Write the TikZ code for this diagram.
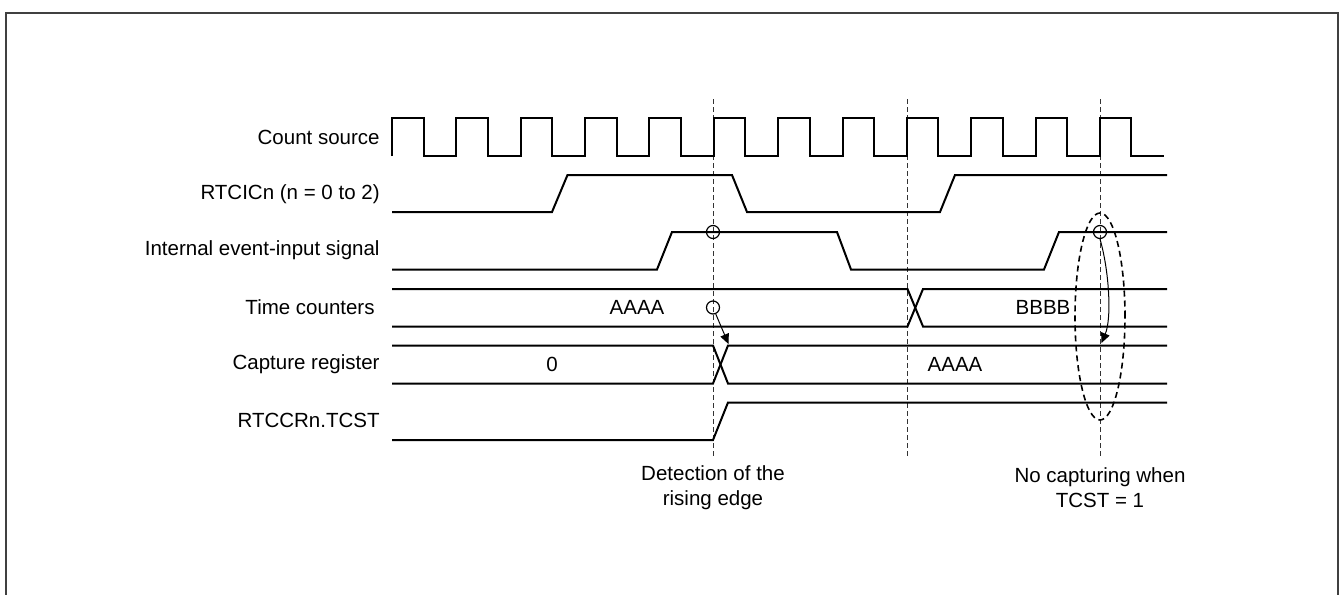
\documentclass[tikz,border=0pt]{standalone}
\usepackage{fontspec}
\setmainfont{Liberation Sans}
\usetikzlibrary{arrows.meta}
\begin{document}
\begin{tikzpicture}[x=0.5pt,y=-0.5pt,
  sig/.style={line width=1pt, line join=miter},
  guide/.style={line width=0.5pt, dash pattern=on 2.5pt off 1.5pt, black!80},
  lbl/.style={font=\fontsize{10.25}{12.5}\selectfont, inner sep=0pt},
  ring/.style={circle, draw, line width=0.6pt, minimum size=6.5pt, inner sep=0pt},
  ptr/.style={line width=0.5pt, -{Triangle[length=5pt, width=4.5pt]}},
  zone/.style={line width=0.8pt, dash pattern=on 3pt off 2pt}]
\useasboundingbox (0,0) rectangle (1341,595);
\draw[line width=1pt, black!75] (6,600) -- (6,13) -- (1338,13) -- (1338,600);

% guides
\draw[guide] (713,99) -- (713,457);
\draw[guide] (907.5,99) -- (907.5,457);
\draw[guide] (1100,99) -- (1100,457);

% count source
\draw[sig] (392,156) foreach \k in {0,...,11} { -- ({392+64.36*\k},118) -- ({423.5+64.36*\k},118) -- ({423.5+64.36*\k},156) -- ({456.36+64.36*\k},156) };

% RTCICn
\draw[sig] (392,212) -- (552,212) -- (567.5,175) -- (732,175) -- (747,212) -- (940,212) -- (955,175) -- (1167,175);

% internal event
\draw[sig] (392,269.5) -- (657,269.5) -- (672,232) -- (837,232) -- (851,269.5) -- (1044,269.5) -- (1059,232) -- (1167,232);

% time counters
\draw[sig] (392,289) -- (907.5,289) -- (923,326.5) -- (1167,326.5);
\draw[sig] (392,326.5) -- (907.5,326.5) -- (923,289) -- (1167,289);

% capture register
\draw[sig] (392,345.5) -- (713,345.5) -- (728,383.5) -- (1167,383.5);
\draw[sig] (392,383.5) -- (713,383.5) -- (728,345.5) -- (1167,345.5);

% TCST
\draw[sig] (392,440) -- (713,440) -- (728,402.5) -- (1167,402.5);

% rings
\node[ring] (c1) at (713,232) {};
\node[ring] (c2) at (713,307.5) {};
\node[ring] (c3) at (1100,232) {};

\coordinate (t1) at (728.5,344);
\coordinate (t2) at (1101.5,343);
\draw[ptr] (c2) -- (t1);
\draw[ptr] (c3.south) .. controls (1109,270) and (1112,318) .. (t2);

% dashed zone
\draw[zone] (1100,316.5) ellipse [x radius=12.5pt, y radius=51.75pt];

% row labels
\node[lbl, anchor=east] (l1) at (380,137) {Count source};
\node[lbl, anchor=east] (l2) at (380,194) {RTCICn (n = 0 to 2)};
\node[lbl, anchor=east] (l3) at (380,250.5) {Internal event-input signal};
\node[lbl, anchor=east] (l4) at (375,307) {Time counters};
\node[lbl, anchor=east] (l5) at (380,364) {Capture register};
\node[lbl, anchor=east] (l6) at (380,420.5) {RTCCRn.TCST};

% values
\node[lbl] (v1) at (637,307.5) {AAAA};
\node[lbl] (v2) at (1043,307.5) {BBBB};
\node[lbl] (v3) at (552,364) {0};
\node[lbl] (v4) at (955,364) {AAAA};

% notes
\node[lbl, align=center] (n1) at (713,487.5) {Detection of the\\rising edge};
\node[lbl, align=center] (n2) at (1100,487.5) {No capturing when\\TCST = 1};
\end{tikzpicture}
\end{document}
